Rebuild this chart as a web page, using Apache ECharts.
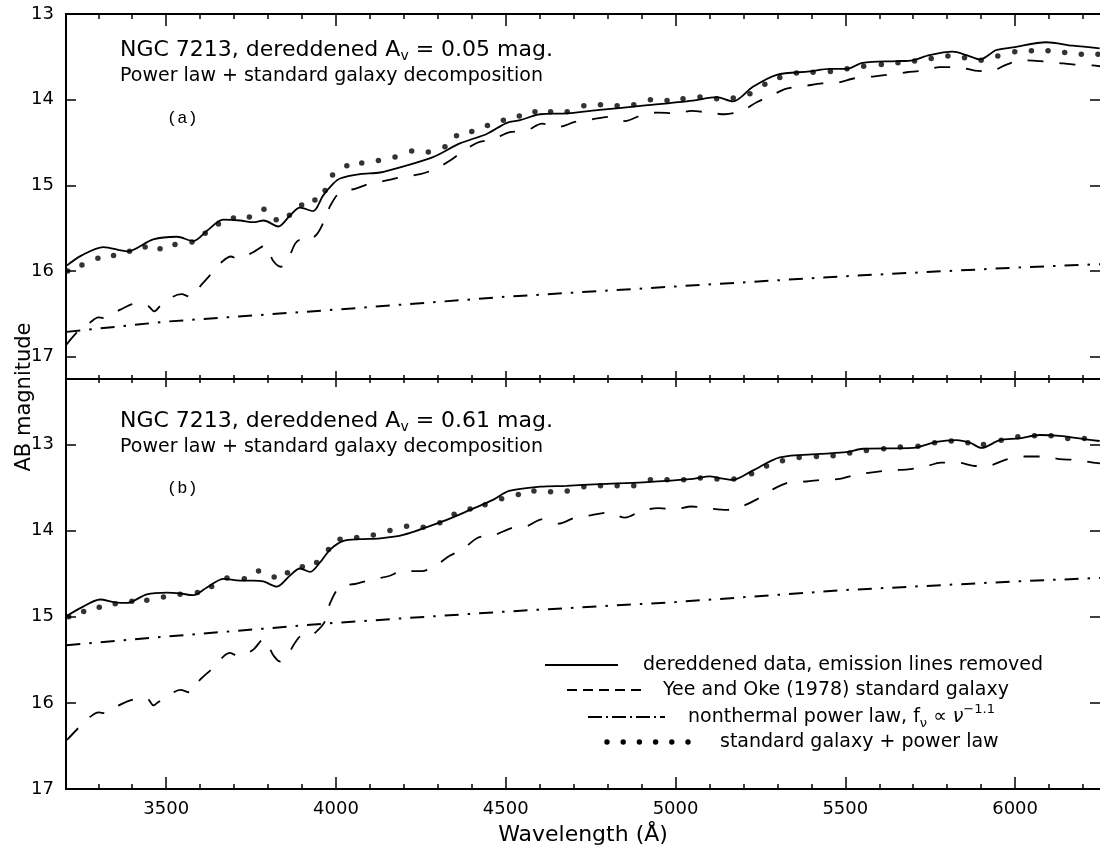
<!DOCTYPE html>
<html>
<head>
<meta charset="utf-8">
<script src="https://cdn.jsdelivr.net/npm/echarts@6/dist/echarts.min.js"></script>
<style>
  html, body { margin: 0; padding: 0; background: #fff; }
  #chart { width: 1100px; height: 847px; }
</style>
</head>
<body>
<div id="chart"></div>
<script>
// wavelength range (Angstrom)
var X_MIN = 3205, X_MAX = 6250;
var minorTicks = [3300,3400,3500,3600,3700,3800,3900,4000,4100,4200,4300,4400,4500,4600,4700,4800,4900,5000,5100,5200,5300,5400,5500,5600,5700,5800,5900,6000,6100,6200];
var majorTicks = [3500,4000,4500,5000,5500,6000];
var magTicks = [13,14,15,16,17];

// panel (a): A_V = 0.05
var topData = [[3206,15.94],[3250,15.82],[3315,15.72],[3385,15.77],[3462,15.63],[3532,15.60],[3580,15.65],[3620,15.53],[3668,15.40],[3718,15.41],[3757,15.43],[3787,15.41],[3830,15.48],[3865,15.35],[3894,15.26],[3933,15.30],[3962,15.12],[3992,14.98],[4012,14.92],[4071,14.87],[4130,14.85],[4197,14.78],[4286,14.67],[4365,14.51],[4444,14.40],[4503,14.27],[4542,14.24],[4601,14.17],[4680,14.16],[4777,14.12],[4904,14.07],[5051,14.01],[5121,13.97],[5169,14.02],[5228,13.85],[5298,13.71],[5395,13.67],[5454,13.64],[5504,13.64],[5551,13.57],[5651,13.55],[5698,13.54],[5748,13.48],[5816,13.44],[5857,13.48],[5896,13.53],[5945,13.42],[5994,13.39],[6092,13.33],[6170,13.37],[6249,13.40]];
var topGalaxy = [[3206,16.86],[3241,16.70],[3276,16.60],[3300,16.54],[3315,16.55],[3365,16.45],[3409,16.38],[3447,16.41],[3465,16.47],[3482,16.41],[3520,16.30],[3545,16.27],[3570,16.30],[3606,16.15],[3640,16.00],[3668,15.88],[3690,15.83],[3712,15.86],[3756,15.78],[3792,15.70],[3815,15.88],[3838,15.95],[3855,15.90],[3880,15.68],[3898,15.63],[3912,15.65],[3944,15.57],[3968,15.39],[3983,15.24],[4012,15.08],[4056,15.04],[4100,14.98],[4153,14.94],[4197,14.90],[4248,14.87],[4292,14.81],[4336,14.71],[4371,14.61],[4418,14.50],[4463,14.46],[4512,14.38],[4562,14.36],[4607,14.28],[4654,14.32],[4704,14.26],[4754,14.23],[4801,14.20],[4851,14.25],[4900,14.18],[4948,14.15],[4998,14.16],[5047,14.13],[5095,14.15],[5145,14.17],[5195,14.13],[5239,14.03],[5283,13.95],[5327,13.87],[5381,13.84],[5431,13.81],[5478,13.80],[5528,13.75],[5581,13.73],[5625,13.71],[5681,13.68],[5728,13.66],[5778,13.62],[5828,13.62],[5881,13.66],[5925,13.67],[5975,13.59],[6022,13.54],[6072,13.55],[6125,13.57],[6175,13.59],[6228,13.60],[6250,13.61]];
var topPowerLaw = [[3206,16.71],[3500,16.59],[4000,16.45],[4500,16.30],[5000,16.18],[5500,16.06],[6000,15.96],[6250,15.92]];
var topSum = [[3210,16.00],[3252,15.93],[3299,15.85],[3345,15.82],[3392,15.77],[3438,15.72],[3482,15.74],[3526,15.69],[3576,15.66],[3615,15.56],[3654,15.45],[3698,15.38],[3745,15.37],[3788,15.28],[3824,15.40],[3863,15.35],[3899,15.23],[3938,15.17],[3968,15.06],[3990,14.88],[4032,14.77],[4076,14.74],[4125,14.71],[4174,14.67],[4223,14.60],[4272,14.61],[4321,14.55],[4355,14.42],[4400,14.37],[4446,14.30],[4493,14.24],[4540,14.19],[4586,14.14],[4632,14.14],[4681,14.14],[4730,14.07],[4779,14.06],[4828,14.07],[4877,14.06],[4926,14.00],[4975,14.01],[5022,13.99],[5072,13.97],[5121,13.99],[5170,13.98],[5219,13.93],[5263,13.82],[5307,13.74],[5356,13.69],[5405,13.68],[5456,13.67],[5505,13.64],[5554,13.61],[5606,13.59],[5655,13.57],[5704,13.55],[5753,13.52],[5802,13.49],[5851,13.51],[5900,13.54],[5949,13.49],[5999,13.44],[6048,13.43],[6097,13.43],[6146,13.45],[6195,13.47],[6244,13.47]];

// panel (b): A_V = 0.61
var botData = [[3208,14.99],[3247,14.90],[3306,14.80],[3345,14.83],[3384,14.84],[3443,14.74],[3502,14.72],[3541,14.73],[3580,14.75],[3620,14.66],[3669,14.56],[3718,14.58],[3757,14.58],[3786,14.59],[3826,14.65],[3865,14.52],[3894,14.44],[3924,14.48],[3953,14.37],[3983,14.22],[4022,14.12],[4071,14.10],[4130,14.09],[4198,14.05],[4316,13.89],[4395,13.76],[4464,13.64],[4510,13.54],[4601,13.49],[4679,13.48],[4777,13.46],[4905,13.44],[5052,13.40],[5101,13.37],[5130,13.39],[5169,13.41],[5224,13.31],[5307,13.15],[5425,13.11],[5503,13.09],[5552,13.05],[5700,13.04],[5768,12.97],[5827,12.95],[5867,12.98],[5901,13.04],[5955,12.95],[6013,12.93],[6072,12.89],[6131,12.90],[6209,12.94],[6249,12.96]];
var botGalaxy = [[3208,16.43],[3242,16.29],[3277,16.16],[3301,16.11],[3320,16.12],[3365,16.02],[3404,15.96],[3443,15.95],[3463,16.03],[3477,15.99],[3521,15.88],[3541,15.85],[3571,15.88],[3600,15.73],[3639,15.59],[3669,15.46],[3688,15.42],[3713,15.46],[3757,15.38],[3786,15.26],[3816,15.45],[3835,15.52],[3855,15.46],[3880,15.30],[3899,15.22],[3915,15.24],[3943,15.17],[3968,15.05],[3983,14.84],[4012,14.65],[4056,14.62],[4105,14.57],[4154,14.53],[4198,14.47],[4252,14.47],[4292,14.41],[4336,14.29],[4372,14.22],[4419,14.08],[4468,14.05],[4517,13.97],[4562,13.95],[4606,13.87],[4655,13.92],[4704,13.85],[4753,13.82],[4802,13.79],[4851,13.85],[4900,13.77],[4949,13.74],[4998,13.75],[5047,13.72],[5096,13.74],[5150,13.76],[5194,13.72],[5238,13.64],[5287,13.52],[5336,13.44],[5385,13.43],[5430,13.41],[5483,13.40],[5532,13.35],[5586,13.32],[5635,13.30],[5684,13.29],[5733,13.26],[5782,13.21],[5831,13.21],[5885,13.25],[5929,13.24],[5978,13.17],[6027,13.14],[6081,13.14],[6131,13.17],[6180,13.18],[6229,13.21],[6250,13.22]];
var botPowerLaw = [[3206,15.33],[3500,15.23],[4000,15.07],[4500,14.94],[5000,14.83],[5500,14.69],[6000,14.59],[6250,14.55]];
var botSum = [[3213,15.00],[3257,14.94],[3303,14.89],[3350,14.85],[3399,14.82],[3443,14.81],[3492,14.77],[3541,14.74],[3592,14.72],[3634,14.65],[3679,14.55],[3730,14.56],[3772,14.47],[3818,14.54],[3857,14.49],[3901,14.42],[3943,14.37],[3978,14.22],[4012,14.10],[4061,14.08],[4110,14.05],[4159,14.00],[4208,13.95],[4257,13.96],[4306,13.91],[4348,13.81],[4395,13.75],[4439,13.70],[4488,13.63],[4537,13.58],[4583,13.54],[4632,13.55],[4681,13.54],[4730,13.49],[4779,13.48],[4828,13.48],[4877,13.48],[4926,13.41],[4975,13.41],[5024,13.41],[5073,13.39],[5122,13.40],[5172,13.40],[5224,13.34],[5268,13.25],[5315,13.19],[5364,13.15],[5415,13.14],[5464,13.13],[5513,13.10],[5562,13.07],[5613,13.05],[5662,13.03],[5714,13.02],[5763,12.98],[5812,12.96],[5861,12.98],[5907,13.00],[5959,12.95],[6008,12.91],[6057,12.90],[6106,12.90],[6155,12.93],[6204,12.93]];

var FONT = 'DejaVu Sans';
var chart = echarts.init(document.getElementById('chart'));

function xAx(grid, pos, ticks, len, extra) {
  return Object.assign({
    type: 'value', gridIndex: grid, position: pos, min: X_MIN, max: X_MAX,
    axisLine: { show: true, onZero: false, lineStyle: { color: '#000', width: 2 } },
    axisTick: { show: true, inside: true, length: len, customValues: ticks, lineStyle: { color: '#000', width: 1.5 } },
    axisLabel: { show: false },
    splitLine: { show: false }
  }, extra || {});
}

// right-hand axes carry the ticks only; the frame edge is cut off in the original
function yAx(grid, pos, min, max, labels) {
  return {
    type: 'value', gridIndex: grid, position: pos, inverse: true, min: min, max: max,
    axisLine: { show: labels, onZero: false, lineStyle: { color: '#000', width: 2 } },
    axisTick: { show: true, inside: true, length: 10, customValues: magTicks, lineStyle: { color: '#000', width: 1.5 } },
    axisLabel: labels ? { show: true, customValues: magTicks, margin: 12, color: '#000', fontSize: 18, fontFamily: FONT } : { show: false },
    splitLine: { show: false }
  };
}

function panel(xi, yi, solid, galaxy, plaw, sum) {
  var common = { xAxisIndex: xi, yAxisIndex: yi, silent: true, animation: false };
  return [
    Object.assign({ type: 'line', data: solid, symbol: 'none', smooth: 0.3,
      lineStyle: { color: '#000', width: 1.8 } }, common),
    Object.assign({ type: 'line', data: galaxy, symbol: 'none', smooth: 0.3,
      lineStyle: { color: '#000', width: 1.8, type: [16, 16] } }, common),
    Object.assign({ type: 'line', data: plaw, symbol: 'none',
      lineStyle: { color: '#000', width: 2, type: [14, 9, 2.5, 9] } }, common),
    Object.assign({ type: 'scatter', data: sum, symbol: 'circle', symbolSize: 5.5,
      itemStyle: { color: '#000' } }, common)
  ];
}

function txt(x, y, text, size, rich, family) {
  return { type: 'text', x: x, y: y, silent: true,
    style: { text: text, fill: '#000', fontSize: size, fontFamily: family || FONT,
      verticalAlign: 'middle', align: 'left', rich: rich } };
}

var richA = {
  sub: { fontSize: 14, fontFamily: FONT, padding: [13, 0, 0, 0] }
};
var richLeg = {
  sub: { fontSize: 13, fontFamily: FONT, padding: [13, 0, 0, 0] },
  sup: { fontSize: 13, fontFamily: FONT, padding: [0, 0, 15, 0] },
  nu: { fontSize: 19, fontFamily: FONT, fontStyle: 'italic' }
};

var dots = [];
for (var i = 0; i < 6; i++) {
  dots.push({ type: 'circle', shape: { cx: 607 + i * 16.2, cy: 742, r: 2.7 }, style: { fill: '#000' }, silent: true });
}

chart.setOption({
  backgroundColor: '#fff',
  animation: false,
  grid: [
    { left: 66, right: 0, top: 14, height: 365 },
    { left: 66, right: 0, top: 379, height: 410 }
  ],
  xAxis: [
    xAx(0, 'bottom', minorTicks, 4),
    xAx(0, 'bottom', majorTicks, 8),
    xAx(0, 'top', minorTicks, 5),
    xAx(0, 'top', majorTicks, 12),
    xAx(1, 'bottom', minorTicks, 5, {
      axisLabel: { show: true, customValues: majorTicks, margin: 11, color: '#000', fontSize: 18, fontFamily: FONT,
        formatter: function (v) { return String(v); } },
      name: 'Wavelength (Å)', nameLocation: 'middle', nameGap: 35,
      nameTextStyle: { color: '#000', fontSize: 22, fontFamily: FONT }
    }),
    xAx(1, 'bottom', majorTicks, 12),
    xAx(1, 'top', minorTicks, 4),
    xAx(1, 'top', majorTicks, 8)
  ],
  yAxis: [
    yAx(0, 'left', 13, 17.26, true),
    yAx(0, 'right', 13, 17.26, false),
    yAx(1, 'left', 12.24, 17, true),
    yAx(1, 'right', 12.24, 17, false)
  ],
  series: [].concat(
    panel(0, 0, topData, topGalaxy, topPowerLaw, topSum),
    panel(4, 2, botData, botGalaxy, botPowerLaw, botSum)
  ),
  graphic: [
    txt(120, 50, 'NGC 7213, dereddened A{sub|v} = 0.05 mag.', 22, richA),
    txt(120, 76, 'Power law + standard galaxy decomposition', 19),
    txt(167, 118, '(a)', 17, null, 'Liberation Mono'),
    txt(120, 421, 'NGC 7213, dereddened A{sub|v} = 0.61 mag.', 22, richA),
    txt(120, 447, 'Power law + standard galaxy decomposition', 19),
    txt(167, 488, '(b)', 17, null, 'Liberation Mono'),
    { type: 'text', x: 25, y: 397, rotation: Math.PI / 2, silent: true,
      style: { text: 'AB magnitude', fill: '#000', fontSize: 21, fontFamily: FONT, align: 'center', verticalAlign: 'middle' } },
    // legend
    { type: 'line', shape: { x1: 545, y1: 665, x2: 618, y2: 665 }, style: { stroke: '#000', lineWidth: 1.8 }, silent: true },
    txt(643, 665, 'dereddened data, emission lines removed', 19),
    { type: 'line', shape: { x1: 567, y1: 690, x2: 642, y2: 690 }, style: { stroke: '#000', lineWidth: 1.8, lineDash: [10, 6] }, silent: true },
    txt(663, 690, 'Yee and Oke (1978) standard galaxy', 19),
    { type: 'line', shape: { x1: 588, y1: 717, x2: 665, y2: 717 }, style: { stroke: '#000', lineWidth: 1.8, lineDash: [14, 4, 2, 4] }, silent: true },
    txt(688, 717, 'nonthermal power law, f{sub|ν} ∝ {nu|ν}{sup|−1.1}', 19, richLeg),
    txt(720, 742, 'standard galaxy + power law', 19)
  ].concat(dots)
});
</script>
</body>
</html>
